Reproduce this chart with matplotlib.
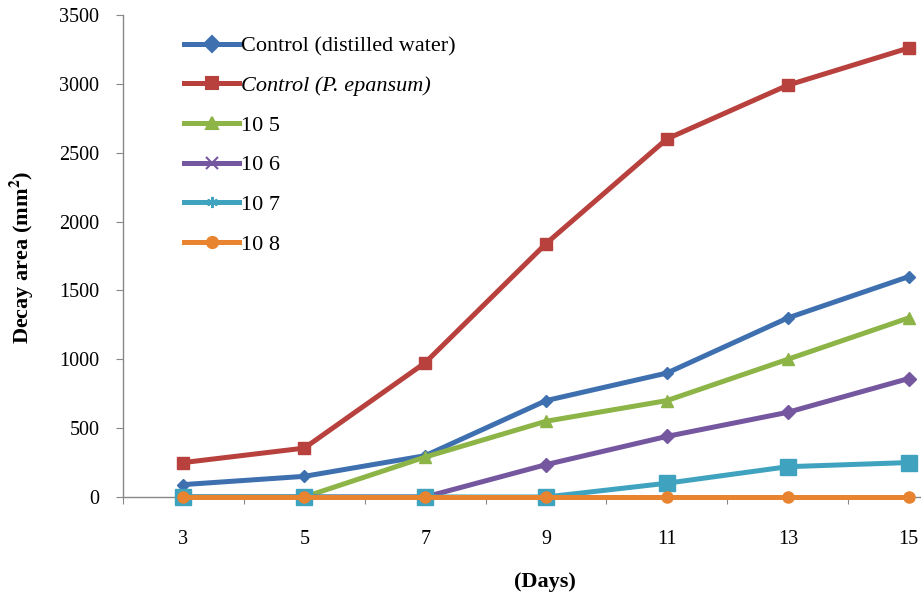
import matplotlib
matplotlib.use("Agg")
import matplotlib.pyplot as plt
from matplotlib.lines import Line2D
from matplotlib.ticker import FixedLocator

plt.rcParams['font.family'] = ['Liberation Serif', 'DejaVu Serif']
plt.rcParams['mathtext.fontset'] = 'stix'

days = [3, 5, 7, 9, 11, 13, 15]
distilled = [90, 150, 300, 700, 900, 1300, 1600]
penicillium = [250, 355, 975, 1840, 2600, 2990, 3260]
c10_5 = [0, 0, 290, 550, 700, 1000, 1300]
c10_6 = [0, 0, 0, 235, 440, 615, 860]
c10_7 = [0, 0, 0, 0, 100, 220, 250]
c10_8 = [0, 0, 0, 0, 0, 0, 0]

labels = ["Control (distilled water)", "Control (P. epansum)",
          "10 5", "10 6", "10 7", "10 8"]
colors = ["#3E70B0", "#B8413E", "#8DB446", "#7557A0", "#3FA3BF", "#E8832F"]
# markers as drawn on the lines, and as shown in the legend
plot_markers = ["D", "s", "^", "D", "s", "o"]
plot_sizes = [6, 9, 8, 7, 11, 8]
legend_markers = ["D", "s", "^", "x", (6, 2, 0), "o"]

series = [distilled, penicillium, c10_5, c10_6, c10_7, c10_8]

fig = plt.figure(figsize=(9.21, 5.99), dpi=100)
ax = fig.add_axes([0.1336, 0.1703, 0.9186, 0.8047])

# draw so the upper series sit on top like the original
order = [4, 5, 2, 3, 0, 1]
for i in order:
    ax.plot(days, series[i], color=colors[i], lw=3.6, marker=plot_markers[i],
            ms=plot_sizes[i], mec=colors[i], mfc=colors[i], zorder=3 + i,
            clip_on=False)

ax.set_xlim(2, 16)
ax.set_ylim(0, 3500)
ax.set_yticks(range(0, 3501, 500))
ax.xaxis.set_major_locator(FixedLocator([2, 4, 6, 8, 10, 12, 14, 16]))
ax.xaxis.set_minor_locator(FixedLocator(days))
ax.set_xticklabels([])
ax.set_xticklabels([str(d) for d in days], minor=True)
ax.tick_params(axis='x', which='major', direction='out', length=5,
               color='#888888')
ax.tick_params(axis='x', which='minor', length=0, pad=24, labelsize=14.5)
ax.tick_params(axis='y', direction='out', length=5, color='#888888',
               labelsize=14.5, pad=12)

for s in ['top', 'right']:
    ax.spines[s].set_visible(False)
for s in ['left', 'bottom']:
    ax.spines[s].set_color('#888888')
    ax.spines[s].set_linewidth(1.0)

fig.text(0.024, 0.57, "Decay area (mm$^\\mathbf{2}$)", fontsize=16,
         fontweight='bold', rotation=90, ha='center', va='center')
fig.text(0.592, 0.028, "(Days)", fontsize=16, fontweight='bold',
         ha='center', va='center')

handles = [Line2D([0], [0], color=colors[i], lw=3.6, marker=legend_markers[i],
                  ms=8, mec=colors[i], mfc=colors[i], mew=1.5)
           for i in range(6)]
leg = ax.legend(handles, labels, loc='upper left',
                bbox_to_anchor=(0.062, 0.975), frameon=False, fontsize=16,
                handlelength=2.45, labelspacing=0.86, handletextpad=0.1,
                borderaxespad=0)
leg.get_texts()[1].set_fontstyle('italic')

fig.savefig("out.png", dpi=100)
